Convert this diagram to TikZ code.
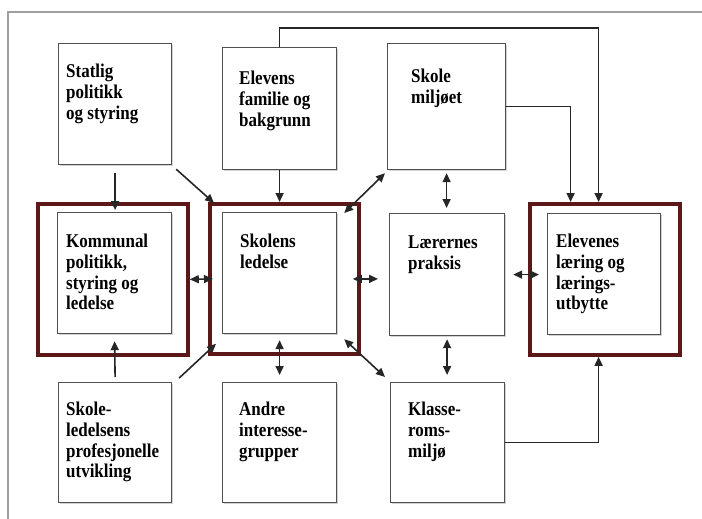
\documentclass[tikz,border=0pt]{standalone}
\usepackage{fontspec}
\setmainfont[FakeStretch=0.87]{Liberation Serif}
\usetikzlibrary{arrows.meta,positioning,shadows}
\definecolor{framered}{RGB}{92,24,24}
\definecolor{boxgray}{RGB}{80,80,80}

\begin{document}
\begin{tikzpicture}[
  x=1pt, y=-1pt,
  box/.style={draw=boxgray, line width=1.2pt, fill=white, anchor=north west, inner sep=0pt,
    minimum width=114pt, minimum height=121pt,
    drop shadow={shadow xshift=1.2pt, shadow yshift=-1.2pt, opacity=0.35}},
  redbox/.style={draw=framered, line width=3.8pt, anchor=north west, inner sep=0pt,
    minimum width=150pt, minimum height=151pt},
  txt/.style={inner sep=0pt, align=left, font=\fontsize{19.5}{20.7}\selectfont\bfseries},
  arr/.style={-{Triangle[length=9pt,width=8pt]}, line width=1.6pt, draw=black!85},
  darr/.style={{Triangle[length=9pt,width=8pt]}-{Triangle[length=9pt,width=8pt]}, line width=1.6pt, draw=black!85},
]
  \useasboundingbox (0,0) rectangle (702,519);
  \draw[gray!75, line width=1.2pt] (8,519) -- (8,12) -- (702,12);

  % red frames
  \node[redbox] (kommunalR) at (36,202) {};
  \node[redbox, minimum width=149pt, minimum height=150pt] (skolensR) at (208,202) {};
  \node[redbox] (elevenesR) at (528,202) {};

  % boxes
  \node[box, minimum width=113pt] (statlig) at (58,43) {};
  \node[box, minimum height=122pt] (familie) at (222,47) {};
  \node[box, minimum width=118pt, minimum height=126pt] (miljo) at (387,43) {};
  \node[box] (kommunal) at (57,212) {};
  \node[box] (skolens) at (222,212) {};
  \node[box, minimum width=115pt, minimum height=122pt] (laerernes) at (389,213) {};
  \node[box, minimum width=113pt] (elevenes) at (547,213) {};
  \node[box, minimum width=113pt, minimum height=120pt] (skoleled) at (58,382) {};
  \node[box, minimum height=120pt] (andre) at (222,382) {};
  \node[box, minimum height=120pt] (klasse) at (390,382) {};

  % texts
  \node[txt, below right=21pt and 8pt of statlig.north west] (statligT) {Statlig\\politikk\\og styring};
  \node[txt, below right=24pt and 17pt of familie.north west] (familieT) {Elevens\\familie og\\bakgrunn};
  \node[txt, below right=26pt and 24pt of miljo.north west] (miljoT) {Skole\\milj\o et};
  \node[txt, below right=22pt and 9pt of kommunal.north west] (kommunalT) {Kommunal\\politikk,\\styring og\\ledelse};
  \node[txt, below right=22pt and 18pt of skolens.north west] (skolensT) {Skolens\\ledelse};
  \node[txt, below right=23pt and 19pt of laerernes.north west] (laerernesT) {L\ae rernes\\praksis};
  \node[txt, below right=21pt and 9pt of elevenes.north west] (elevenesT) {Elevenes\\l\ae ring og\\l\ae rings-\\utbytte};
  \node[txt, below right=20pt and 8pt of skoleled.north west] (skoleledT) {Skole-\\ledelsens\\profesjonelle\\utvikling};
  \node[txt, below right=20pt and 17pt of andre.north west] (andreT) {Andre\\interesse-\\grupper};
  \node[txt, below right=20pt and 18pt of klasse.north west] (klasseT) {Klasse-\\roms-\\milj\o};

  % connectors
  \draw[arr] ([yshift=-8pt]statlig.south) -- ([yshift=2pt]statlig.south |- kommunal.north);
  \draw[arr] ([xshift=4pt,yshift=-4pt]statlig.south east) -- ([xshift=6pt,yshift=-1pt]skolensR.north west);
  \draw[arr] (familie.south) -- (familie.south |- skolensR.north);
  \draw[arr] (familie.north) -- ++(0,-19) -| ([xshift=-5.5pt]elevenes.north |- elevenesR.north);
  \draw[arr] (miljo.east) -| ([xshift=-33.5pt]elevenes.north |- elevenesR.north);
  \draw[darr] ([xshift=7pt,yshift=-1pt]skolens.north east) -- ([xshift=-2pt,yshift=-3pt]miljo.south west);
  \draw[darr] (kommunalR.east) -- ([xshift=5pt]skolensR.west);
  \draw[darr] ([xshift=-8pt]skolensR.east) -- ([xshift=-11pt]skolensR.east -| laerernes.west);
  \draw[darr] ([xshift=8pt]laerernes.east) -- ([xshift=11pt]laerernes.east -| elevenesR.west);
  \draw[darr] ([yshift=-3pt]miljo.south) -- ([yshift=5pt]miljo.south |- laerernes.north);
  \draw[darr] ([yshift=-3pt]laerernes.south) -- ([yshift=7pt]laerernes.south |- klasse.north);
  \draw[darr] ([yshift=-6pt]skolens.south) -- ([yshift=7pt]andre.north);
  \draw[darr] ([xshift=7pt,yshift=-5pt]skolens.south east) -- ([xshift=-5pt,yshift=5pt]klasse.north west);
  \draw[arr] ([xshift=7pt,yshift=4pt]skoleled.north east) -- ([xshift=8pt,yshift=12pt]skolensR.south west);
  \draw[arr] ([yshift=5pt]skoleled.north) -- ([yshift=-7pt]kommunal.south);
  \draw[arr] (klasse.east) -| ([xshift=-5.5pt]elevenes.south |- elevenesR.south);
\end{tikzpicture}
\end{document}
